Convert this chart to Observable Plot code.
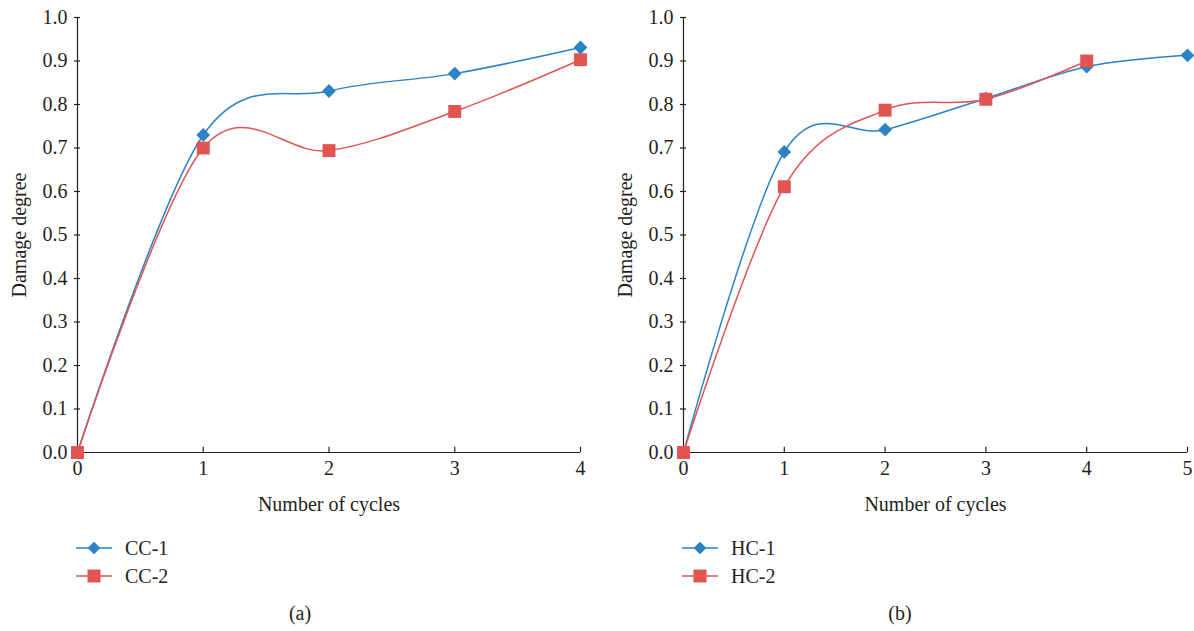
<!DOCTYPE html>
<html><head><meta charset="utf-8">
<script src="https://cdn.jsdelivr.net/npm/d3@7"></script>
<script src="https://cdn.jsdelivr.net/npm/@observablehq/plot@0.6"></script>
<style>
body{margin:0;background:#fff;font-family:"Liberation Serif",serif;color:#231f20}
#wrap{position:relative;width:1194px;height:631px;overflow:hidden;background:#fff}
.panel{position:absolute;top:0;width:597px;height:631px}
.legend{position:absolute;top:534px;font-size:20px}
.item{display:flex;align-items:center;height:28px}
.item svg{margin-right:13px}
.caption{position:absolute;top:602px;font-size:20px;text-align:center;width:40px}
</style>
</head><body><div id="wrap"></div>
<script>
// ---- data ----
const cyclesA = [0, 1, 2, 3, 4];
const cc1 = [0, 0.730, 0.831, 0.871, 0.931];
const cc2 = [0, 0.700, 0.694, 0.784, 0.903];
const cyclesB = [0, 1, 2, 3, 4, 5];
const hc1 = [0, 0.691, 0.742, 0.814, 0.887, 0.913];
const hc2 = [0, 0.611, 0.787, 0.812, 0.900];
const yTicks = [0, 0.1, 0.2, 0.3, 0.4, 0.5, 0.6, 0.7, 0.8, 0.9, 1.0];
const xTicksA = [0, 1, 2, 3, 4];
const xTicksB = [0, 1, 2, 3, 4, 5];
const seriesA = ["CC-1", "CC-2"];
const seriesB = ["HC-1", "HC-2"];
const captions = ["(a)", "(b)"];

const BLUE = "#2b82c4", RED = "#e05552", INK = "#231f20";
const FONT = "Liberation Serif, serif";

function rows(xs, ys, name) {
  return ys.map((v, i) => ({x: xs[i], y: v, s: name}));
}

function makePanel({left, xs, s1, s2, names, xTicks, xMax, mLeft, mRight, caption, capX}) {
  const d1 = rows(xs, s1, names[0]);
  const d2 = rows(xs, s2, names[1]);
  const panel = document.createElement("div");
  panel.className = "panel";
  panel.style.left = left + "px";
  const innerW = 597 - mLeft - mRight;
  const chart = Plot.plot({
    width: 597, height: 520,
    marginLeft: mLeft, marginRight: mRight, marginTop: 17, marginBottom: 68,
    style: {fontFamily: FONT, fontSize: "20px", color: INK, background: "transparent", overflow: "visible"},
    x: {domain: [0, xMax]},
    y: {domain: [0, 1]},
    marks: [
      Plot.ruleX([0], {y1: 0, y2: 1, stroke: INK, strokeWidth: 1.2}),
      Plot.ruleY([0], {x1: 0, x2: xMax, stroke: INK, strokeWidth: 1.2}),
      Plot.ruleX(xTicks, {x: d => d, y1: 0, y2: 0.012, stroke: INK, strokeWidth: 1.2}),
      Plot.ruleY(yTicks, {y: d => d, x1: 0, x2: xMax * 3 / innerW, stroke: INK, strokeWidth: 1.2}),
      Plot.axisY({ticks: yTicks, tickFormat: d3.format(".1f"), tickSize: 3, tickPadding: 7,
        label: "Damage degree", labelAnchor: "center", labelArrow: "none", labelOffset: 66,
        fontSize: 20, stroke: INK, strokeWidth: 1.2}),
      Plot.axisX({ticks: xTicks, tickFormat: d3.format("d"), tickSize: 0, tickPadding: 8,
        label: "Number of cycles", labelAnchor: "center", labelArrow: "none", labelOffset: 58,
        fontSize: 20}),
      Plot.line(d1, {x: "x", y: "y", stroke: BLUE, strokeWidth: 1.5, curve: "cardinal", tension: 0}),
      Plot.line(d2, {x: "x", y: "y", stroke: RED, strokeWidth: 1.5, curve: "cardinal", tension: 0}),
      Plot.dot(d1, {x: "x", y: "y", symbol: "square", rotate: 45, r: 5.5, fill: BLUE, stroke: "none"}),
      Plot.dot(d2, {x: "x", y: "y", symbol: "square", r: 7.3, fill: RED, stroke: "none"})
    ]
  });
  panel.appendChild(chart);

  const leg = document.createElement("div");
  leg.className = "legend";
  leg.style.left = (mLeft - 1) + "px";
  leg.innerHTML = `
    <div class="item"><svg width="36" height="16"><line x1="0" y1="8" x2="36" y2="8" stroke="${BLUE}" stroke-width="1.5"/><rect x="13.5" y="3.5" width="9" height="9" fill="${BLUE}" transform="rotate(45 18 8)"/></svg><span>${names[0]}</span></div>
    <div class="item"><svg width="36" height="16"><line x1="0" y1="8" x2="36" y2="8" stroke="${RED}" stroke-width="1.5"/><rect x="11.5" y="1.5" width="13" height="13" fill="${RED}"/></svg><span>${names[1]}</span></div>`;
  panel.appendChild(leg);

  const cap = document.createElement("div");
  cap.className = "caption";
  cap.style.left = (capX - 20) + "px";
  cap.textContent = caption;
  panel.appendChild(cap);
  document.getElementById("wrap").appendChild(panel);
}

makePanel({left: 0, xs: cyclesA, s1: cc1, s2: cc2, names: seriesA, xTicks: xTicksA, xMax: 4,
  mLeft: 77, mRight: 17, caption: captions[0], capX: 300});
makePanel({left: 597, xs: cyclesB, s1: hc1, s2: hc2, names: seriesB, xTicks: xTicksB, xMax: 5,
  mLeft: 86, mRight: 7, caption: captions[1], capX: 303});
</script>
</body></html>
